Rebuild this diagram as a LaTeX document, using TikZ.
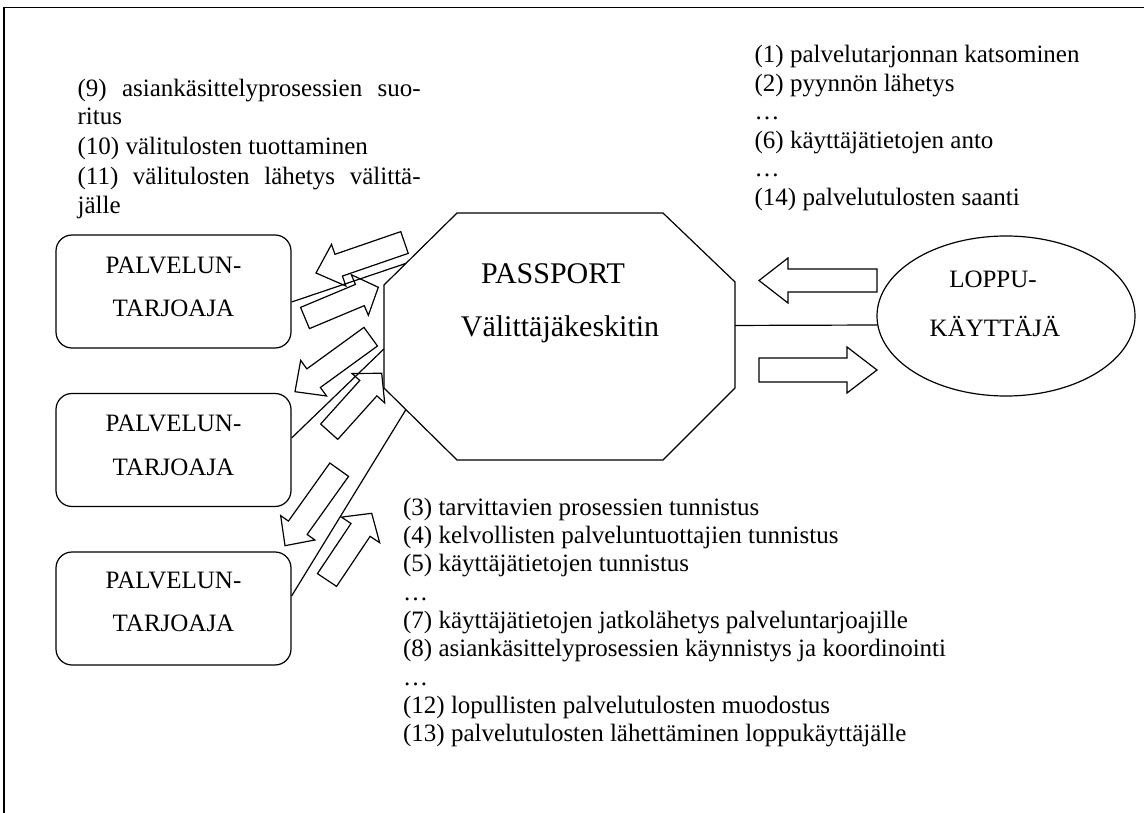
\documentclass[tikz,border=0pt]{standalone}
\usepackage{fontspec}
\setmainfont{Liberation Serif}
\usetikzlibrary{calc,shapes.geometric}

% block arrow: #1 tail, #2 tip, #3 head length, #4 head half width, #5 shaft half width
\newcommand{\flowarrow}[5]{%
  \coordinate (#1-h) at ($(#2)!#3!(#1)$);
  \draw ($(#1)!#5!90:(#2)$) -- ($(#1-h)!#5!90:(#2)$) -- ($(#1-h)!#4!90:(#2)$)
    -- (#2) -- ($(#1-h)!#4!-90:(#2)$) -- ($(#1-h)!#5!-90:(#2)$)
    -- ($(#1)!#5!-90:(#2)$) -- cycle;
}

\begin{document}
\begin{tikzpicture}[x=1pt,y=-1pt,line width=1.2pt,line join=miter,
  txt/.style={anchor=base west,inner sep=0pt,font=\fontsize{25}{28}\selectfont},
  ctxt/.style={anchor=base,inner sep=0pt,font=\fontsize{25}{28}\selectfont},
  hubtxt/.style={anchor=base,inner sep=0pt,font=\fontsize{30}{34}\selectfont},
  provider/.style={draw,rounded corners=16pt,minimum width=235pt,minimum height=113pt,inner sep=0pt},
  user/.style={draw,ellipse,minimum width=258pt,minimum height=160pt,inner sep=0pt},
]
\useasboundingbox (0,0) rectangle (1144,813);

% outer frame (top and left edges)
\draw[line width=1.6pt] (4,813) -- (4,7.5) -- (1144,7.5);

% service providers
\node[provider] (prov1) at (173.5,291.5) {};
\node[provider] (prov2) at (173.5,450) {};
\node[provider] (prov3) at (173.5,608.5) {};
\node[ctxt] (prov1a) at (173.5,273.3) {PALVELUN-};
\node[ctxt] (prov1b) at (173.5,316.7) {TARJOAJA};
\node[ctxt] (prov2a) at (173.5,431.7) {PALVELUN-};
\node[ctxt] (prov2b) at (173.5,475) {TARJOAJA};
\node[ctxt] (prov3a) at (173.5,588.3) {PALVELUN-};
\node[ctxt] (prov3b) at (173.5,631.7) {TARJOAJA};

% broker hub (octagon)
\coordinate (o1) at (457,213);
\coordinate (o2) at (663,213);
\coordinate (o3) at (735,282);
\coordinate (o4) at (735,388);
\coordinate (o5) at (663,460);
\coordinate (o6) at (457,460);
\coordinate (o7) at (384,388);
\coordinate (o8) at (384,285);
\draw (o1) -- (o2) -- (o3) -- (o4) -- (o5) -- (o6) -- (o7) -- (o8) -- cycle;
\node[hubtxt] (hubA) at (553,283.3) {PASSPORT};
\node[hubtxt] (hubB) at (560,336) {Välittäjäkeskitin};

% end user
\node[user] (user) at (1006,316) {};
\node[ctxt] (userA) at (993,287.7) {LOPPU-};
\node[ctxt] (userB) at (995,336.7) {KÄYTTÄJÄ};

% connectors
\draw ($(prov1.east)+(0,10.5)$) -- ($(o8)!0.3!(o1)$);
\draw ($(prov2.east)+(0,-12)$) -- ($(o8)!0.62!(o7)$);
\draw ($(prov3.east)+(0,-12.5)$) -- ($(o7)!0.3!(o6)$);
\draw ($(o3)!0.41!(o4)$) -- (user.184);

% message arrows, end user side
\coordinate (ra) at (877,280.5); \coordinate (raT) at (759,280.5);
\coordinate (rb) at (759,370);   \coordinate (rbT) at (877,370);
\flowarrow{ra}{raT}{29pt}{22.5pt}{11.5pt}
\flowarrow{rb}{rbT}{30pt}{23pt}{12pt}

% message arrows, provider side
\coordinate (la) at (404.5,242.5); \coordinate (laT) at (316,273);
\coordinate (lb) at (305,318);     \coordinate (lbT) at (378.3,287.3);
\coordinate (lc) at (370.7,336.7); \coordinate (lcT) at (295,391.7);
\coordinate (ld) at (329.2,431.7); \coordinate (ldT) at (381.7,373.3);
\coordinate (le) at (339.2,469.7); \coordinate (leT) at (285,545.7);
\coordinate (lf) at (327,580);     \coordinate (lfT) at (371.7,513.3);
\flowarrow{la}{laT}{24pt}{22pt}{11.5pt}
\flowarrow{lb}{lbT}{20pt}{22pt}{11.5pt}
\flowarrow{lc}{lcT}{23pt}{22pt}{11.5pt}
\flowarrow{ld}{ldT}{20pt}{22pt}{11.5pt}
\flowarrow{le}{leT}{22pt}{21pt}{11.5pt}
\flowarrow{lf}{lfT}{20pt}{23pt}{11.5pt}

% provider steps
\node[txt] (t9a)  at (77,96.7)  {\makebox[343pt][s]{(9) asiankäsittelyprosessien suo-}};
\node[txt] (t9b)  at (77,125)   {ritus};
\node[txt] (t10)  at (77,155)   {(10) välitulosten tuottaminen};
\node[txt] (t11a) at (77,185)   {\makebox[343pt][s]{(11) välitulosten lähetys välittä-}};
\node[txt] (t11b) at (77,213.3) {jälle};

% end user steps
\node[txt] (u1)  at (754,62.7)  {(1) palvelutarjonnan katsominen};
\node[txt] (u2)  at (754,91.2)  {(2) pyynnön lähetys};
\node[txt] (u3)  at (754,119.7) {\dots};
\node[txt] (u6)  at (754,148.2) {(6) käyttäjätietojen anto};
\node[txt] (u7)  at (754,176.7) {\dots};
\node[txt] (u14) at (754,205.2) {(14) palvelutulosten saanti};

% broker steps
\node[txt] (b3)  at (402.5,515)   {(3) tarvittavien prosessien tunnistus};
\node[txt] (b4)  at (402.5,543.3) {(4) kelvollisten palveluntuottajien tunnistus};
\node[txt] (b5)  at (402.5,571.7) {(5) käyttäjätietojen tunnistus};
\node[txt] (b6)  at (402.5,600)   {\dots};
\node[txt] (b7)  at (402.5,628.3) {(7) käyttäjätietojen jatkolähetys palveluntarjoajille};
\node[txt] (b8)  at (402.5,656.7) {(8) asiankäsittelyprosessien käynnistys ja koordinointi};
\node[txt] (b9)  at (402.5,685)   {\dots};
\node[txt] (b12) at (402.5,713.3) {(12) lopullisten palvelutulosten muodostus};
\node[txt] (b13) at (402.5,741.7) {(13) palvelutulosten lähettäminen loppukäyttäjälle};
\end{tikzpicture}
\end{document}
